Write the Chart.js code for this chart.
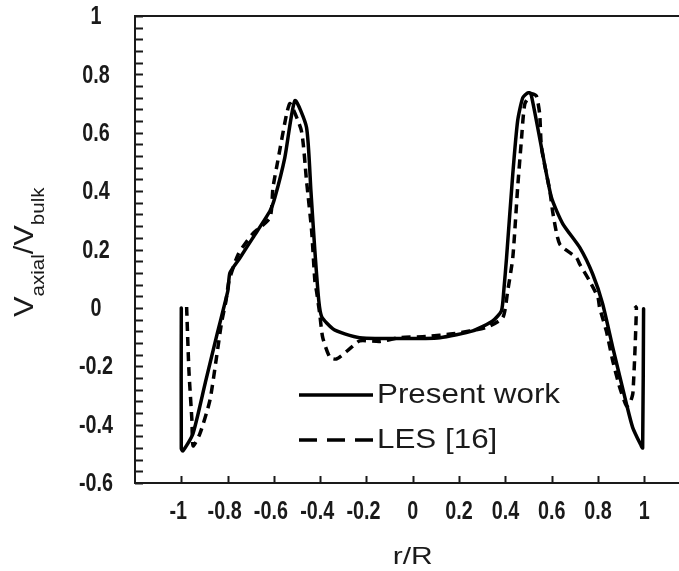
<!DOCTYPE html>
<html>
<head>
<meta charset="utf-8">
<script src="https://cdn.jsdelivr.net/npm/chart.js@4"></script>
<style>
  html, body { margin: 0; padding: 0; background: #fff; }
</style>
</head>
<body>
<canvas id="profile" width="679" height="571"></canvas>
<script>
// Present work (solid)
const presentX = [-1.0, -1.0, -0.993, -0.95, -0.896, -0.842, -0.799, -0.79, -0.747, -0.691, -0.617, -0.596, -0.553, -0.509,
  -0.459, -0.44, -0.423, -0.406, -0.393, -0.345, -0.294, -0.229, -0.056, 0.117, 0.259, 0.345, 0.383, 0.393, 0.405,
  0.432, 0.453, 0.475, 0.497, 0.51, 0.556, 0.599, 0.648, 0.721, 0.777, 0.82, 0.864, 0.923, 0.95, 0.987, 0.993, 0.997];
const presentY = [0.0, -0.483, -0.49, -0.432, -0.255, -0.079, 0.058, 0.12, 0.171, 0.24, 0.332, 0.377, 0.514, 0.71,
  0.618, 0.40, 0.195, 0.024, -0.031, -0.072, -0.089, -0.102, -0.105, -0.102, -0.079, -0.045, -0.01, 0.058, 0.171,
  0.459, 0.641, 0.72, 0.737, 0.735, 0.549, 0.378, 0.288, 0.207, 0.116, 0.014, -0.136, -0.329, -0.41, -0.473, -0.48, -0.003];

// LES [16] (dashed)
const lesX = [-0.977, -0.967, -0.954, -0.949, -0.92, -0.877, -0.848, -0.826, -0.807, -0.794, -0.754, -0.691, -0.617, -0.604,
  -0.583, -0.545, -0.53, -0.481, -0.459, -0.437, -0.423, -0.416, -0.402, -0.389, -0.358, -0.329, -0.272, -0.229, -0.142,
  -0.056, 0.059, 0.173, 0.318, 0.389, 0.41, 0.432, 0.453, 0.469, 0.484, 0.513, 0.534, 0.548, 0.556, 0.592, 0.606, 0.635,
  0.707, 0.721, 0.764, 0.8, 0.807, 0.836, 0.864, 0.894, 0.923, 0.937, 0.951, 0.966, 0.959];
const lesY = [0.003, -0.216, -0.387, -0.473, -0.432, -0.319, -0.17, -0.05, 0.024, 0.092, 0.184, 0.254, 0.309, 0.412,
  0.504, 0.665, 0.70, 0.606, 0.435, 0.264, 0.092, 0.058, -0.021, -0.102, -0.17, -0.175, -0.14, -0.113, -0.115,
  -0.102, -0.098, -0.089, -0.067, -0.033, 0.058, 0.172, 0.412, 0.572, 0.699, 0.733, 0.726, 0.665, 0.549, 0.401, 0.321, 0.218,
  0.172, 0.15, 0.092, 0.035, 0.001, -0.079, -0.182, -0.273, -0.336, -0.329, -0.29, 0.001, 0.007];

const xTicks = [-1, -0.8, -0.6, -0.4, -0.2, 0, 0.2, 0.4, 0.6, 0.8, 1];
const yLabels = [-0.6, -0.4, -0.2, 0, 0.2, 0.4, 0.6, 0.8, 1];

const ink = '#1a1a1a';
const textFamily = "'Liberation Sans', Arial, sans-serif";

const toPoints = (xs, ys) => xs.map((x, i) => ({ x: x, y: ys[i] }));

// narrow tick numbers: no condensed face installed, so squeeze a bold one
function squeezed(ctx, text, x, y, sx) {
  ctx.save();
  ctx.translate(x, y);
  ctx.scale(sx, 1);
  ctx.fillText(text, 0, 0);
  ctx.restore();
}

// inner ticks, tick numbers, top frame line, legend and the subscripted y title
const decor = {
  id: 'decor',
  afterDraw(chart) {
    const ctx = chart.ctx;
    const area = chart.chartArea;
    const xs = chart.scales.x;
    const ys = chart.scales.y;
    ctx.save();
    ctx.strokeStyle = ink;
    ctx.lineWidth = 2;
    ctx.beginPath();
    ctx.moveTo(area.left, area.top);
    ctx.lineTo(area.right, area.top);
    ys.ticks.forEach(t => {
      const py = Math.round(ys.getPixelForValue(t.value)) + 0.5;
      ctx.moveTo(area.left, py);
      ctx.lineTo(area.left + 8, py);
    });
    xTicks.forEach(v => {
      const px = Math.round(xs.getPixelForValue(v)) + 0.5;
      ctx.moveTo(px, area.bottom);
      ctx.lineTo(px, area.bottom - 7);
    });
    ctx.stroke();

    // tick numbers
    ctx.fillStyle = ink;
    ctx.font = 'bold 26px ' + textFamily;
    ctx.textAlign = 'center';
    ctx.textBaseline = 'middle';
    yLabels.forEach(v => squeezed(ctx, String(v), 96, ys.getPixelForValue(v) + 1, 0.76));
    xTicks.forEach(v => squeezed(ctx, String(v), xs.getPixelForValue(v) - (v < 0 ? 3 : 0), area.bottom + 29, 0.76));

    // legend
    const sets = chart.data.datasets;
    const rows = [395, 440];
    sets.forEach((ds, i) => {
      const y = rows[i];
      ctx.lineWidth = 3.5;
      ctx.strokeStyle = ds.borderColor;
      ctx.setLineDash(ds.borderDash && ds.borderDash.length ? [18, 10] : []);
      ctx.beginPath();
      ctx.moveTo(299, y);
      ctx.lineTo(373, y);
      ctx.stroke();
      ctx.setLineDash([]);
      ctx.font = '28px ' + textFamily;
      ctx.textAlign = 'left';
      squeezed(ctx, ds.label, 377, y, 1.12);
    });

    // y axis title V_axial / V_bulk
    ctx.save();
    ctx.translate(33, 317);
    ctx.rotate(-Math.PI / 2);
    ctx.scale(1.14, 1);
    ctx.textBaseline = 'alphabetic';
    ctx.textAlign = 'left';
    const parts = [['V', 27, 0], ['axial', 18, 11], ['/', 27, 0], ['V', 27, 0], ['bulk', 18, 11]];
    let cx = 0;
    parts.forEach(p => {
      ctx.font = p[1] + 'px ' + textFamily;
      ctx.fillText(p[0], cx, p[2]);
      cx += ctx.measureText(p[0]).width;
    });
    ctx.restore();

    // x axis title
    ctx.font = '24px ' + textFamily;
    ctx.textAlign = 'center';
    squeezed(ctx, 'r/R', xs.getPixelForValue(0), 557, 1.25);
    ctx.restore();
  }
};

new Chart(document.getElementById('profile'), {
  type: 'line',
  data: {
    datasets: [
      {
        label: 'Present work',
        data: toPoints(presentX, presentY),
        borderColor: '#000',
        borderWidth: 3.5,
        borderDash: [],
        borderJoinStyle: 'round',
        borderCapStyle: 'round',
        pointRadius: 0,
        tension: 0.2,
        fill: false
      },
      {
        label: 'LES [16]',
        data: toPoints(lesX, lesY),
        borderColor: '#000',
        borderWidth: 3.5,
        borderDash: [9, 6],
        pointRadius: 0,
        tension: 0.2,
        fill: false
      }
    ]
  },
  options: {
    responsive: false,
    animation: false,
    devicePixelRatio: 1,
    layout: { padding: { top: 16, right: 0, bottom: 0, left: 0 } },
    plugins: {
      legend: { display: false },
      tooltip: { enabled: false }
    },
    scales: {
      x: {
        type: 'linear',
        min: -1.2,
        max: 1.15,
        afterBuildTicks: (scale) => { scale.ticks = xTicks.map(v => ({ value: v })); },
        afterFit: (scale) => { scale.height = 88; },
        grid: { display: false, drawTicks: false },
        border: { display: true, color: ink, width: 2 },
        ticks: { display: false }
      },
      y: {
        type: 'linear',
        min: -0.6,
        max: 1,
        afterFit: (scale) => { scale.width = 135; },
        grid: { display: false, drawTicks: false },
        border: { display: true, color: ink, width: 2 },
        ticks: { display: false, stepSize: 0.04 }
      }
    }
  },
  plugins: [decor]
});
</script>
</body>
</html>
